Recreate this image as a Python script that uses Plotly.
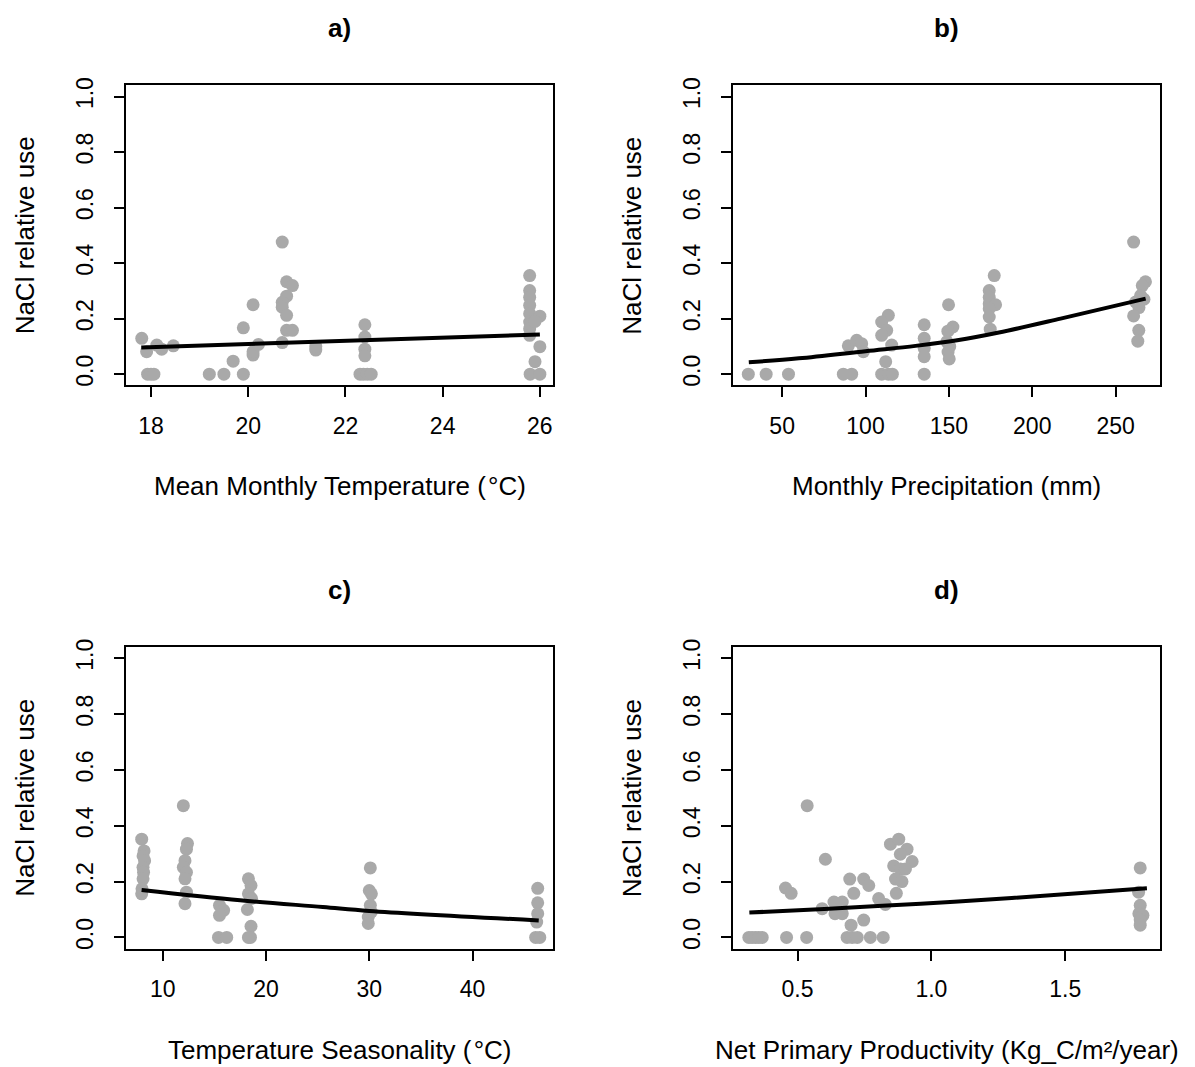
import plotly.graph_objects as go

# ---------------- data ----------------
# a) Mean monthly temperature vs NaCl relative use
a_x = [17.81, 17.91, 18.12, 18.22, 18.46, 17.93, 18.0, 18.06,
       19.2, 19.5, 19.69, 19.9, 19.9,
       20.1, 20.1, 20.1, 20.21,
       20.7, 20.79, 20.91, 20.79, 20.7, 20.7, 20.79, 20.79, 20.91, 20.7,
       21.39, 21.39,
       22.4, 22.4, 22.4, 22.4, 22.3, 22.37, 22.45, 22.53,
       25.79, 25.79, 25.79, 25.79, 25.79, 25.79, 25.79, 25.79,
       26.0, 25.9, 26.0, 25.9, 25.8, 26.0]
a_y = [0.129, 0.081, 0.105, 0.09, 0.102, 0.0, 0.0, 0.0,
       0.0, 0.0, 0.047, 0.167, 0.0,
       0.25, 0.069, 0.081, 0.107,
       0.476, 0.333, 0.319, 0.281, 0.259, 0.241, 0.212, 0.158, 0.158, 0.114,
       0.087, 0.1,
       0.178, 0.134, 0.09, 0.066, 0.0, 0.0, 0.0, 0.0,
       0.355, 0.301, 0.277, 0.248, 0.218, 0.188, 0.164, 0.14,
       0.209, 0.19, 0.099, 0.045, 0.0, 0.0]
a_fit_x = [17.8, 22.4, 26.0]
a_fit_y = [0.096, 0.122, 0.143]

# b) Monthly precipitation
b_x = [29.7, 40.4, 53.8, 86.7, 91.7,
       89.7, 94.7, 97.7, 98.7,
       109.7, 113.7, 116.1, 112.1, 113.7, 109.7, 112.7, 109.7, 115.7,
       135.2, 135.2, 135.2, 135.2, 135.2,
       149.8, 152.4, 149.4, 148.8, 150.5, 149.5, 150.2,
       177.2, 174.2, 174.2, 174.2, 178.0, 174.2, 174.2, 174.8,
       260.8, 267.9, 266.0, 265.0, 267.0, 262.0, 264.0, 260.8, 263.9, 263.3]
b_y = [0.0, 0.0, 0.0, 0.0, 0.0,
       0.102, 0.122, 0.11, 0.081,
       0.0, 0.0, 0.0, 0.045, 0.212, 0.188, 0.158, 0.14, 0.105,
       0.178, 0.129, 0.093, 0.063, 0.0,
       0.25, 0.17, 0.155, 0.117, 0.1, 0.08, 0.055,
       0.355, 0.301, 0.277, 0.254, 0.25, 0.236, 0.206, 0.162,
       0.476, 0.333, 0.319, 0.283, 0.27, 0.26, 0.24, 0.21, 0.158, 0.119]
b_fit_x = [30, 60, 100, 130, 155, 180, 217, 268]
b_fit_y = [0.043, 0.057, 0.083, 0.102, 0.122, 0.150, 0.200, 0.272]

# c) Temperature seasonality
c_x = [7.97, 8.2, 8.1, 8.25, 8.1, 8.15, 8.1, 8.0, 7.97,
       12.0, 12.4, 12.3, 12.16, 12.0, 12.3, 12.16, 12.3, 12.16,
       15.5, 15.9, 15.5, 15.4, 16.2,
       18.3, 18.55, 18.3, 18.6, 18.2, 18.55, 18.3, 18.5,
       30.1, 30.0, 30.2, 30.1, 30.2, 29.9, 29.9,
       46.3, 46.3, 46.3, 46.2, 46.1, 46.5]
c_y = [0.352, 0.31, 0.292, 0.275, 0.251, 0.233, 0.21, 0.174, 0.156,
       0.472, 0.336, 0.316, 0.275, 0.251, 0.233, 0.21, 0.162, 0.121,
       0.115, 0.097, 0.079, 0.0, 0.0,
       0.21, 0.186, 0.156, 0.139, 0.1, 0.04, 0.0, 0.0,
       0.249, 0.168, 0.156, 0.115, 0.091, 0.073, 0.05,
       0.176, 0.124, 0.085, 0.055, 0.0, 0.0]
c_fit_x = [7.96, 17.5, 25.5, 30.0, 46.4]
c_fit_y = [0.170, 0.133, 0.109, 0.095, 0.061]

# d) Net primary productivity
d_x = [0.318, 0.33, 0.343, 0.355, 0.368, 0.459, 0.534,
       0.455, 0.476, 0.536, 0.604, 0.592, 0.636, 0.667, 0.64, 0.667,
       0.695, 0.71, 0.70, 0.685, 0.704, 0.723,
       0.747, 0.766, 0.747, 0.772, 0.82, 0.803, 0.828,
       0.847, 0.878, 0.909, 0.884, 0.928, 0.859, 0.884, 0.903, 0.866, 0.89, 0.869,
       1.78, 1.774, 1.78, 1.775, 1.79, 1.78, 1.78]
d_y = [0.0, 0.0, 0.0, 0.0, 0.0, 0.0, 0.0,
       0.177, 0.158, 0.472, 0.28, 0.103, 0.127, 0.127, 0.085, 0.085,
       0.209, 0.158, 0.044, 0.0, 0.0, 0.0,
       0.209, 0.186, 0.062, 0.0, 0.0, 0.139, 0.118,
       0.334, 0.352, 0.316, 0.298, 0.272, 0.256, 0.245, 0.245, 0.209, 0.2, 0.158,
       0.249, 0.162, 0.115, 0.085, 0.079, 0.062, 0.044]
d_fit_x = [0.32, 0.6, 0.96, 1.3, 1.805]
d_fit_y = [0.089, 0.102, 0.121, 0.141, 0.176]

panel_titles = ["a)", "b)", "c)", "d)"]
x_titles = ["Mean Monthly Temperature (\u200a°C)", "Monthly Precipitation (mm)",
            "Temperature Seasonality (\u200a°C)",
            "Net Primary Productivity (Kg_C/m²/year)"]
y_title = "NaCl relative use"

x_ticks = [[18, 20, 22, 24, 26], [50, 100, 150, 200, 250],
           [10, 20, 30, 40], [0.5, 1.0, 1.5]]
x_ticktext = [["18", "20", "22", "24", "26"], ["50", "100", "150", "200", "250"],
              ["10", "20", "30", "40"], ["0.5", "1.0", "1.5"]]
y_ticks = [0, 0.2, 0.4, 0.6, 0.8, 1.0]
y_ticktext = ["0.0", "0.2", "0.4", "0.6", "0.8", "1.0"]

# ---------------- layout geometry (pixels) ----------------
W, H = 1195, 1067
box_x = [(126, 553), (733.3, 1160.3), (126, 553), (733.3, 1160.3)]
box_y = [(78.1, 380.5), (78.1, 380.5), (644.5, 948.6), (644.5, 948.6)]
x_ranges = [[17.486, 26.27], [20.7, 276.8], [6.45, 47.78], [0.26, 1.855]]

FONT = "Liberation Sans, Arial, Helvetica, sans-serif"
PT_COL = "#A9A9A9"

fig = go.Figure()
series = [(a_x, a_y, a_fit_x, a_fit_y, "linear"),
          (b_x, b_y, b_fit_x, b_fit_y, "spline"),
          (c_x, c_y, c_fit_x, c_fit_y, "spline"),
          (d_x, d_y, d_fit_x, d_fit_y, "spline")]

annotations = []
for i, (px, py, fx, fy, shape) in enumerate(series):
    k = "" if i == 0 else str(i + 1)
    fig.add_trace(go.Scatter(x=px, y=py, mode="markers", xaxis="x" + k, yaxis="y" + k,
                             marker=dict(color=PT_COL, size=13, line=dict(width=0)),
                             showlegend=False, hoverinfo="skip"))
    fig.add_trace(go.Scatter(x=fx, y=fy, mode="lines", xaxis="x" + k, yaxis="y" + k,
                             line=dict(color="black", width=4, shape=shape),
                             showlegend=False, hoverinfo="skip"))
    x0, x1 = box_x[i]
    y0, y1 = box_y[i]
    common = dict(showline=True, linecolor="black", linewidth=2, mirror=True,
                  ticks="outside", ticklen=10, tickwidth=2, tickcolor="black",
                  showgrid=False, zeroline=False,
                  tickfont=dict(family=FONT, size=23, color="black"))
    fig.layout["xaxis" + k] = dict(domain=[x0 / W, x1 / W], range=x_ranges[i],
                                   anchor="y" + k, tickmode="array",
                                   tickvals=x_ticks[i], ticktext=x_ticktext[i],
                                   ticklabelstandoff=9, **common)
    fig.layout["yaxis" + k] = dict(domain=[1 - y1 / H, 1 - y0 / H], range=[-0.04, 1.04],
                                   anchor="x" + k, tickmode="array",
                                   tickvals=y_ticks, ticktext=y_ticktext,
                                   tickangle=-90, ticklabelstandoff=12, **common)
    cx = (x0 + x1) / 2
    cy = (y0 + y1) / 2
    annotations.append(dict(text="<b>" + panel_titles[i] + "</b>", x=cx / W, y=1 - (y0 - 58) / H,
                            xref="paper", yref="paper", showarrow=False,
                            xanchor="center", yanchor="middle",
                            font=dict(family=FONT, size=26, color="black")))
    annotations.append(dict(text=x_titles[i], x=cx / W, y=1 - (y1 + 102) / H,
                            xref="paper", yref="paper", showarrow=False,
                            xanchor="center", yanchor="middle",
                            font=dict(family=FONT, size=26, color="black")))
    annotations.append(dict(text=y_title, x=(x0 - 101) / W, y=1 - cy / H,
                            xref="paper", yref="paper", showarrow=False,
                            xanchor="center", yanchor="middle", textangle=-90,
                            font=dict(family=FONT, size=26, color="black")))

fig.update_layout(width=W, height=H, autosize=False,
                  margin=dict(l=0, r=0, t=0, b=0),
                  paper_bgcolor="white", plot_bgcolor="white",
                  annotations=annotations)

fig.write_html("out.html")
